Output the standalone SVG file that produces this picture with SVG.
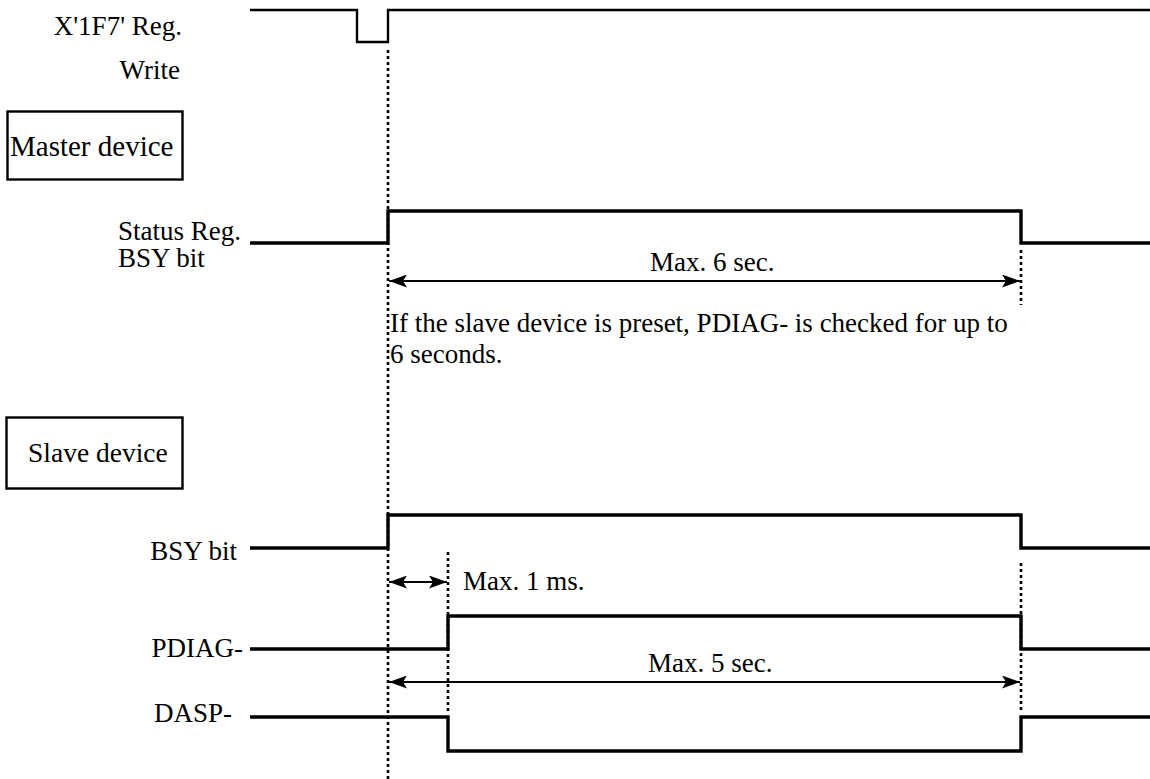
<svg xmlns="http://www.w3.org/2000/svg" width="1150" height="779" viewBox="0 0 1150 779">
<defs>
<style>
.sig{fill:none;stroke:#000;stroke-width:3.4;stroke-linejoin:miter}
.sig2{fill:none;stroke:#000;stroke-width:2.4}
.dot{fill:none;stroke:#000;stroke-width:2.6;stroke-dasharray:3,3}
.dim{fill:none;stroke:#000;stroke-width:1.8}
.box{fill:#fff;stroke:#000;stroke-width:2.4}
</style>
<marker id="ae" viewBox="0 0 18 13" refX="18" refY="6.5" markerWidth="18" markerHeight="13" markerUnits="userSpaceOnUse" orient="auto"><path d="M0,0 L18,6.5 L0,13 L4,6.5 Z" fill="#000"/></marker>
<marker id="as" viewBox="0 0 18 13" refX="0" refY="6.5" markerWidth="18" markerHeight="13" markerUnits="userSpaceOnUse" orient="auto"><path d="M18,0 L0,6.5 L18,13 L14,6.5 Z" fill="#000"/></marker>
</defs>
<g id="write-signal">
<text font-family="Liberation Serif" font-size="27" x="182" y="35" text-anchor="end">X'1F7' Reg.</text>
<text font-family="Liberation Serif" font-size="27" x="180" y="79" text-anchor="end">Write</text>
<path class="sig2" d="M250,10 H357 V42 H388 V10 H1150"/>
</g>
<g id="master-device">
<rect class="box" x="7.5" y="111.5" width="175" height="68"/>
<text font-family="Liberation Serif" font-size="29" x="10" y="156">Master device</text>
</g>
<g id="master-bsy">
<text font-family="Liberation Serif" font-size="27" x="118" y="240">Status Reg.</text>
<text font-family="Liberation Serif" font-size="27" x="118" y="267">BSY bit</text>
<path class="sig" d="M250,243 H388 V211 H1021 V243 H1150"/>
</g>
<g id="note">
<text font-family="Liberation Serif" font-size="27" x="390" y="332">If the slave device is preset, PDIAG- is checked for up to</text>
<text font-family="Liberation Serif" font-size="27" x="390" y="363">6 seconds.</text>
</g>
<g id="slave-device">
<rect class="box" x="6.5" y="417.5" width="176" height="71"/>
<text font-family="Liberation Serif" font-size="27.5" x="28" y="462">Slave device</text>
</g>
<g id="slave-bsy">
<text font-family="Liberation Serif" font-size="27" x="237" y="560" text-anchor="end">BSY bit</text>
<path class="sig" d="M250,548 H388 V515 H1021 V548 H1150"/>
</g>
<g id="pdiag">
<text font-family="Liberation Serif" font-size="27" x="243" y="657" text-anchor="end">PDIAG-</text>
<path class="sig" d="M250,649 H448 V616 H1021 V649 H1150"/>
</g>
<g id="dasp">
<text font-family="Liberation Serif" font-size="27" x="232" y="722" text-anchor="end">DASP-</text>
<path class="sig" d="M250,717 H448 V751 H1021 V717 H1150"/>
</g>
<g id="connectors">
<line class="dot" x1="388" y1="50" x2="388" y2="779"/>
<line class="dot" x1="1021" y1="250" x2="1021" y2="305"/>
<line class="dot" x1="448" y1="552" x2="448" y2="712"/>
<line class="dot" x1="1021" y1="563" x2="1021" y2="712"/>
<line class="dim" x1="389" y1="281" x2="1020" y2="281" marker-start="url(#as)" marker-end="url(#ae)"/>
<text font-family="Liberation Serif" font-size="27" x="650" y="271">Max. 6 sec.</text>
<line class="dim" x1="389" y1="582" x2="447" y2="582" marker-start="url(#as)" marker-end="url(#ae)"/>
<text font-family="Liberation Serif" font-size="27" x="463" y="590">Max. 1 ms.</text>
<line class="dim" x1="389" y1="682" x2="1020" y2="682" marker-start="url(#as)" marker-end="url(#ae)"/>
<text font-family="Liberation Serif" font-size="27" x="648" y="672">Max. 5 sec.</text>
</g>
</svg>
